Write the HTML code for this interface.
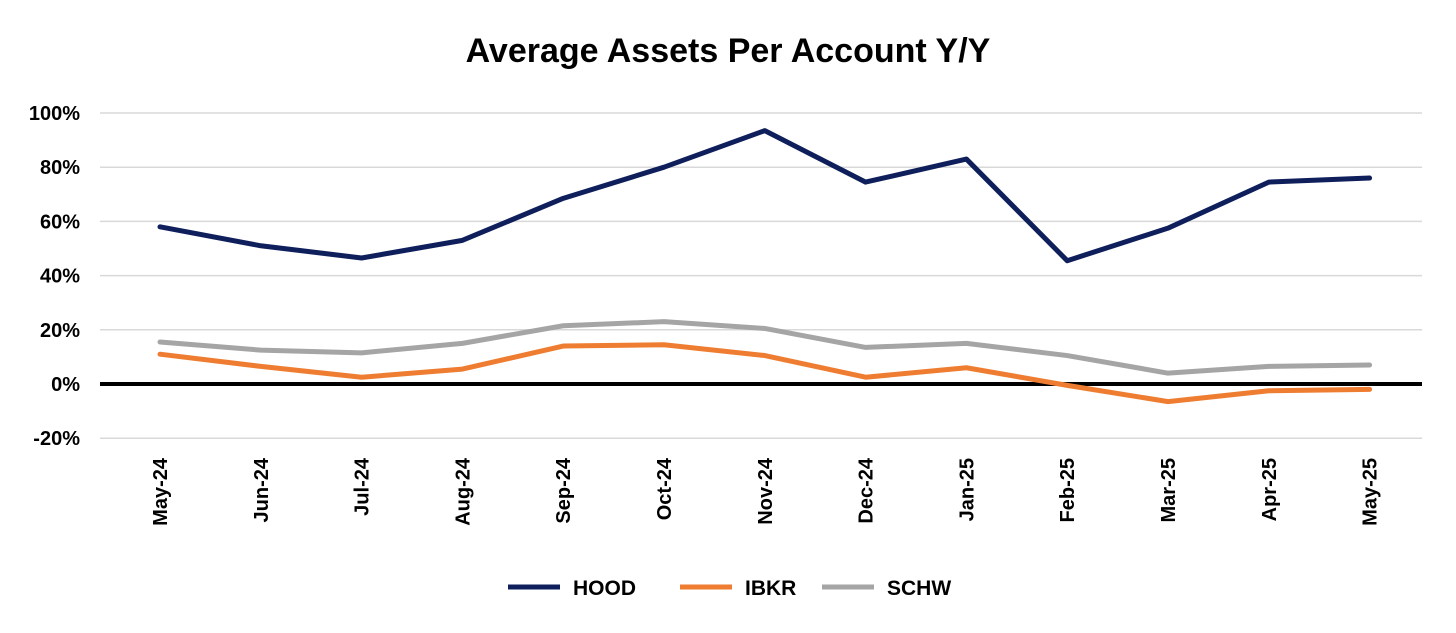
<!DOCTYPE html>
<html><head><meta charset="utf-8"><style>
html,body{margin:0;padding:0;background:#fff;}
svg{display:block;font-family:"Liberation Sans",Arial,sans-serif;}
</style></head><body>
<svg id="chart" width="1456" height="633" viewBox="0 0 1456 633">
<text x="728" y="62" text-anchor="middle" font-size="34" font-weight="bold" fill="#000">Average Assets Per Account Y/Y</text>
<g id="grid"></g><g id="yticks"></g><g id="xticks"></g><g id="series"></g>
<g>
<g><line x1="508" y1="587" x2="560" y2="587" stroke="#0e1f5b" stroke-width="5"/><text x="573" y="595" font-size="21" font-weight="bold">HOOD</text></g>
<g><line x1="680" y1="587" x2="732" y2="587" stroke="#ee7d31" stroke-width="5"/><text x="745" y="595" font-size="21" font-weight="bold">IBKR</text></g>
<g><line x1="822" y1="587" x2="874" y2="587" stroke="#a5a5a5" stroke-width="5"/><text x="887" y="595" font-size="21" font-weight="bold">SCHW</text></g>
</g>
</svg>
<script>
const categories=["May-24","Jun-24","Jul-24","Aug-24","Sep-24","Oct-24","Nov-24","Dec-24","Jan-25","Feb-25","Mar-25","Apr-25","May-25"];
const hood=[58,51,46.5,53,68.5,80,93.5,74.5,83,45.5,57.5,74.5,76];
const ibkr=[11,6.5,2.5,5.5,14,14.5,10.5,2.5,6,-0.5,-6.5,-2.5,-2];
const schw=[15.5,12.5,11.5,15,21.5,23,20.5,13.5,15,10.5,4,6.5,7];
const yTicks=[-20,0,20,40,60,80,100];
const NS="http://www.w3.org/2000/svg";
function y(v){return 384-(v/20)*54.2;}
function x(i){return 160+i*100.8;}
function mk(tag,attrs,parent){const e=document.createElementNS(NS,tag);for(const k in attrs)e.setAttribute(k,attrs[k]);parent.appendChild(e);return e;}
const grid=document.getElementById('grid'),yt=document.getElementById('yticks'),xt=document.getElementById('xticks'),ser=document.getElementById('series');
yTicks.forEach(v=>{
  if(v!==0){const l=mk('line',{x1:100,x2:1422,y1:y(v),y2:y(v),stroke:'#d9d9d9','stroke-width':1.5},grid);
  
  }
  const t=mk('text',{x:80,y:y(v)+7,'text-anchor':'end','font-size':20,'font-weight':'bold'},yt);
  t.textContent=v+'%';
  
  
});
categories.forEach((c,i)=>{
  const t=mk('text',{x:0,y:0,transform:`translate(${x(i)+7},458) rotate(-90)`,'text-anchor':'end','font-size':20,'font-weight':'bold'},xt);
  t.textContent=c;
  
  
});
[[schw,'#a5a5a5','schw-line'],[ibkr,'#ee7d31','ibkr-line'],[hood,'#0e1f5b','hood-line']].forEach(([d,col,name])=>{
  const p=mk('polyline',{points:d.map((v,i)=>x(i)+','+y(v)).join(' '),fill:'none',stroke:col,'stroke-width':5,'stroke-linejoin':'round','stroke-linecap':'round'},ser);
  
  
});
const z=mk('line',{x1:100,x2:1422,y1:y(0),y2:y(0),stroke:'#000','stroke-width':4},grid);


</script>
</body></html>
